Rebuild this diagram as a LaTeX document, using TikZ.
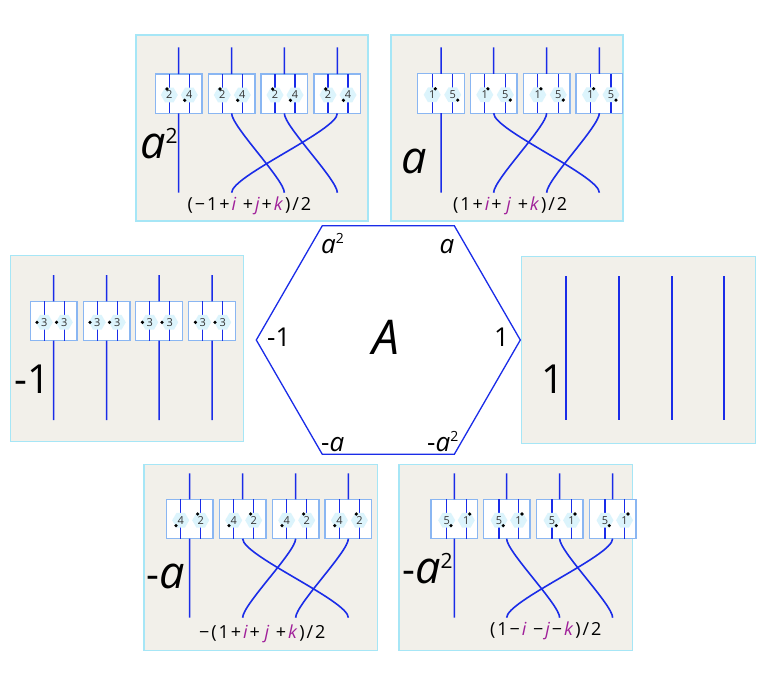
\documentclass[tikz,border=0pt]{standalone}
\usepackage{fontspec}
\setmainfont{Open Sans}
\usetikzlibrary{shapes.geometric}
\definecolor{strandblue}{HTML}{1A2CE8}
\definecolor{panelfill}{HTML}{F2F0EA}
\definecolor{panelline}{HTML}{A6E6F6}
\definecolor{boxline}{HTML}{8AB6F2}
\definecolor{hexfill}{HTML}{DCF4FC}
\definecolor{quat}{HTML}{A0209A}
\definecolor{numink}{HTML}{333333}
\newcommand{\fsz}[1]{\fontsize{#1}{#1}\selectfont}
\newcommand{\qi}[1]{\textcolor{quat}{\textit{#1}}}
\newcommand{\supr}[2]{\raisebox{#1}{\fsz{#2}2}}
\newcommand{\gp}{\kern1.9pt}
\tikzset{
  x=1pt,y=-1pt,
  panel/.style={draw=panelline,line width=1.1pt,fill=panelfill,rectangle,anchor=north west,inner sep=0pt,outer sep=0pt},
  cellbox/.style={draw=boxline,line width=1.1pt,fill=white,rectangle,anchor=north west,inner sep=0pt,outer sep=0pt,minimum width=46.7pt,minimum height=39.4pt},
  strand/.style={draw=strandblue,line width=1.6pt},
  inner/.style={draw=strandblue,line width=1.3pt},
  hexa/.style={shape=regular polygon,regular polygon sides=6,fill=hexfill,inner sep=0pt,minimum size=17pt,text=numink,font=\fsz{11}},
  pip/.style={circle,fill=black,inner sep=0pt,minimum size=3.6pt},
  biglab/.style={anchor=base west,inner sep=0pt,font=\fsz{40}},
  hexlab/.style={anchor=base west,inner sep=0pt,font=\fsz{26}},
  caption/.style={anchor=base west,inner sep=0pt,font=\fsz{18}},
  ring/.style={draw=strandblue,line width=1.3pt,line join=miter},
}
% #1 prefix, #2 list n/x, #3 box top, #4 inner a, #5 inner b, #6 label a, #7 label b,
% #8 dots: dx1/dy1/dx2/dy2, #9 strand top/bottom
\newcommand{\cellrow}[9]{%
  \foreach \n/\bx in {#2}{
    \foreach \dxa/\dya/\dxb/\dyb in {#8}{
    \foreach \st/\sb in {#9}{
      \coordinate (#1t\n) at (\bx+23.35,\st);
      \coordinate (#1b\n) at (\bx+23.35,\sb);
      \node[cellbox] (#1c\n) at (\bx,#3) {};
      \coordinate (#1u\n) at (\bx+#4,#3);
      \coordinate (#1d\n) at (\bx+#4,#3+39.4);
      \coordinate (#1v\n) at (\bx+#5,#3);
      \coordinate (#1e\n) at (\bx+#5,#3+39.4);
      \draw[inner] (#1u\n) -- (#1d\n);
      \draw[inner] (#1v\n) -- (#1e\n);
      \node[hexa] (#1ha\n) at (\bx+#4,#3+21) {#6};
      \node[hexa] (#1hb\n) at (\bx+#5,#3+21) {#7};
      \node[pip] (#1pa\n) at (\bx+\dxa,#3+\dya) {};
      \node[pip] (#1pb\n) at (\bx+\dxb,#3+\dyb) {};
      \draw[strand] (#1t\n) -- (#1c\n.north);
    }}
  }%
}
\newcommand{\twist}[3]{\draw[strand] (#1.south) .. controls +(0,#3) and +(0,-#3) .. (#2);}
\begin{document}
\begin{tikzpicture}
\useasboundingbox (0,0) rectangle (765,686);
\fill[white] (0,0) rectangle (765,686);

% panels
\node[panel,minimum width=232pt,minimum height=186pt] (pa) at (136,35) {};
\node[panel,minimum width=232pt,minimum height=186pt] (pb) at (391,35) {};
\node[panel,minimum width=233pt,minimum height=186.5pt] (pc) at (10.3,255.3) {};
\node[panel,minimum width=233.5pt,minimum height=186.5pt] (pf) at (521.7,256.7) {};
\node[panel,minimum width=233.3pt,minimum height=186pt] (pd) at (144,464.7) {};
\node[panel,minimum width=233.3pt,minimum height=186pt] (pe) at (399,464.7) {};

% central hexagon
\coordinate (h1) at (322.3,225.7);
\coordinate (h2) at (454.3,225.7);
\coordinate (h3) at (520.3,340);
\coordinate (h4) at (454.3,454.3);
\coordinate (h5) at (322.3,454.3);
\coordinate (h6) at (256.3,340);
\draw[ring,fill=white] (h1) -- (h2) -- (h3) -- (h4) -- (h5) -- (h6) -- cycle;

% a^2 panel
\cellrow{A}{1/155.3,2/208.3,3/261,4/314}{74}{14}{34}{2}{4}{11.7/15/29.4/26.3}{47.3/192.7}
\draw[strand] (Ac1.south) -- (Ab1);
\twist{Ac2}{Ab3}{13}
\twist{Ac3}{Ab4}{13}
\twist{Ac4}{Ab2}{17}
\node[biglab] (la) at (140,158) {\fsz{45}\textit{a}\supr{15pt}{21}};
\node[caption] (ca) at (187.5,210) {(\gp−\gp1\gp+\gp\qi{i} \gp+\gp\qi{j}\gp+\gp\qi{k}\gp)\gp/\gp2};

% a panel
\cellrow{B}{1/417.7,2/470.3,3/523.3,4/576}{73.8}{14.5}{35}{1}{5}{17.6/15/40/26.3}{47.3/192.7}
\draw[strand] (Bc1.south) -- (Bb1);
\twist{Bc2}{Bb4}{17}
\twist{Bc3}{Bb2}{13}
\twist{Bc4}{Bb3}{13}
\node[biglab] (lb) at (401,173) {\fsz{45}\textit{a}};
\node[caption] (cb) at (453,210) {(\gp1\gp+\gp\qi{i}\gp+ \qi{j} \gp+\gp\qi{k}\gp)\gp/\gp2};

% -1 panel
\cellrow{C}{1/30.3,2/83.3,3/135.7,4/188.7}{301.3}{14}{34}{3}{3}{6.7/21/26.3/21}{275/420}
\draw[strand] (Cc1.south) -- (Cb1);
\draw[strand] (Cc2.south) -- (Cb2);
\draw[strand] (Cc3.south) -- (Cb3);
\draw[strand] (Cc4.south) -- (Cb4);
\node[biglab] (lc) at (14,393) {-1};

% -a panel
\cellrow{D}{1/166.3,2/219.3,3/272.3,4/325}{499.3}{14.4}{34.4}{4}{2}{9.7/26.3/31.3/14.7}{473.3/617.7}
\draw[strand] (Dc1.south) -- (Db1);
\twist{Dc2}{Db4}{17}
\twist{Dc3}{Db2}{13}
\twist{Dc4}{Db3}{13}
\node[biglab] (ld) at (146,588) {-\fsz{45}\textit{a}};
\node[caption] (cd) at (199,638) {−\gp(\gp1\gp+\gp\qi{i}\gp+ \qi{j} \gp+\gp\qi{k}\gp)\gp/\gp2};

% -a^2 panel
\cellrow{E}{1/431,2/483.3,3/536.3,4/589.3}{499.3}{15.7}{35.3}{5}{1}{20/26.3/38.7/14.7}{473.3/617.7}
\draw[strand] (Ec1.south) -- (Eb1);
\twist{Ec2}{Eb3}{13}
\twist{Ec3}{Eb4}{13}
\twist{Ec4}{Eb2}{17}
\node[biglab] (le) at (402,583) {-\fsz{45}\textit{a}\supr{15pt}{21}};
\node[caption] (ce) at (490,635) {(\gp1\gp−\gp\qi{i} \gp−\gp\qi{j}\gp−\gp\qi{k}\gp)\gp/\gp2};

% 1 panel
\foreach \n/\x in {1/566,2/619,3/672,4/724}{
  \coordinate (Ft\n) at (\x,276);
  \coordinate (Fb\n) at (\x,420);
  \draw[strand] (Ft\n) -- (Fb\n);
}
\node[biglab] (lf) at (541,393) {1};

% hexagon labels
\node[hexlab] (ha2) at (321,253.3) {\textit{a}\supr{10pt}{14}};
\node[hexlab] (ha) at (439.5,253.3) {\textit{a}};
\node[hexlab] (hm1) at (267,346) {-1};
\node[hexlab] (hp1) at (494,346) {1};
\node[anchor=base west,inner sep=0pt,font=\fsz{48}] (hA) at (372,354) {\textit{A}};
\node[hexlab] (hma) at (321,451.7) {-\textit{a}};
\node[hexlab] (hma2) at (427,451.7) {-\textit{a}\supr{10pt}{14}};
\end{tikzpicture}
\end{document}
